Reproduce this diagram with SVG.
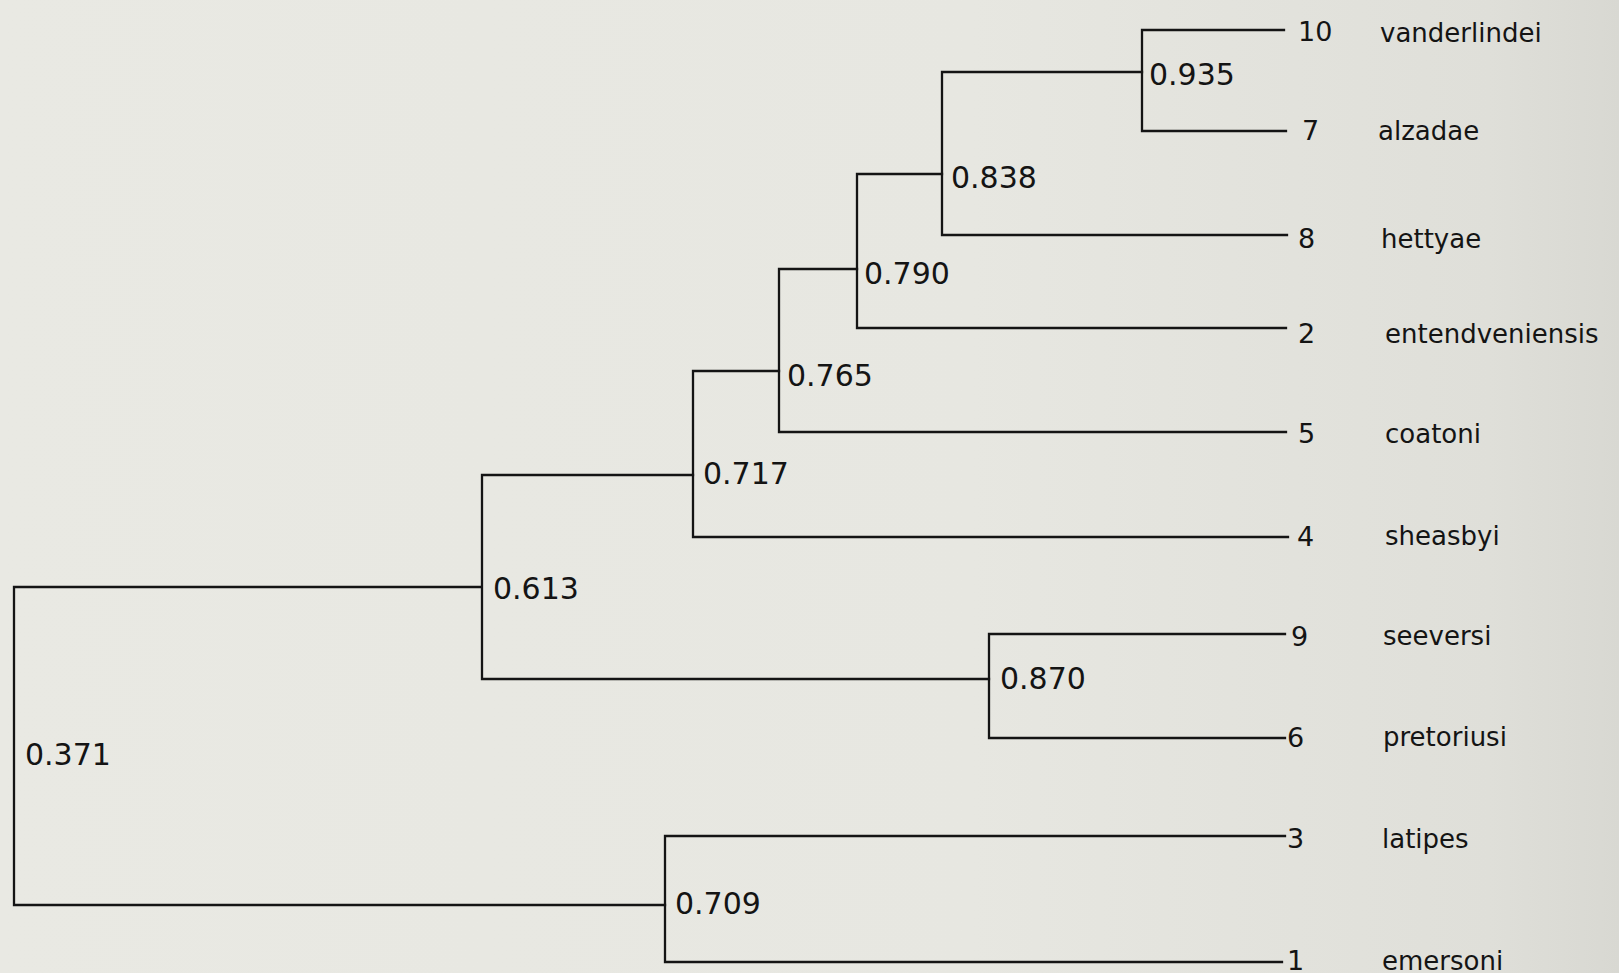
<svg xmlns="http://www.w3.org/2000/svg" width="1619" height="973" viewBox="0 0 1619 973">
<defs>
<linearGradient id="bg" x1="0" y1="0" x2="1" y2="0">
<stop offset="0" stop-color="#e9e9e3"/>
<stop offset="0.6" stop-color="#e7e7e1"/>
<stop offset="0.92" stop-color="#dfdfd9"/>
<stop offset="1" stop-color="#d8d8d2"/>
</linearGradient>
<style>
.ln{fill:none;stroke:#141414;stroke-width:2.3;stroke-linecap:square;stroke-linejoin:miter}
.nv{font-family:"DejaVu Sans","Liberation Sans",sans-serif;font-size:30px;fill:#141414}
.tn{font-family:"DejaVu Sans","Liberation Sans",sans-serif;font-size:27px;fill:#141414}
.sp{font-family:"DejaVu Sans","Liberation Sans",sans-serif;font-size:26px;fill:#141414}
</style>
</defs>
<rect x="0" y="0" width="1619" height="973" fill="url(#bg)"/>
<g id="connectors">
<path class="ln" d="M481,587 H14 V905 H665"/>
<path class="ln" d="M693,475 H482 V679 H989"/>
<path class="ln" d="M779,371 H693 V537 H1288"/>
<path class="ln" d="M857,269 H779 V432 H1286"/>
<path class="ln" d="M942,174 H857 V328 H1286"/>
<path class="ln" d="M1142,72 H942 V235 H1287"/>
<path class="ln" d="M1284,30 H1142 V131 H1286"/>
<path class="ln" d="M1285,634 H989 V738 H1285"/>
<path class="ln" d="M1285,836 H665 V962 H1282"/>
</g>
<g id="node-0371"><text class="nv" x="25" y="765">0.371</text></g>
<g id="node-0613"><text class="nv" x="493" y="599">0.613</text></g>
<g id="node-0717"><text class="nv" x="703" y="484">0.717</text></g>
<g id="node-0765"><text class="nv" x="787" y="386">0.765</text></g>
<g id="node-0790"><text class="nv" x="864" y="284">0.790</text></g>
<g id="node-0838"><text class="nv" x="951" y="188">0.838</text></g>
<g id="node-0935"><text class="nv" x="1149" y="85">0.935</text></g>
<g id="node-0870"><text class="nv" x="1000" y="689">0.870</text></g>
<g id="node-0709"><text class="nv" x="675" y="914">0.709</text></g>
<g id="tip-10"><text class="tn" x="1298" y="41">10</text><text class="sp" x="1380" y="42">vanderlindei</text></g>
<g id="tip-7"><text class="tn" x="1302" y="140">7</text><text class="sp" x="1378" y="140">alzadae</text></g>
<g id="tip-8"><text class="tn" x="1298" y="248">8</text><text class="sp" x="1381" y="248">hettyae</text></g>
<g id="tip-2"><text class="tn" x="1298" y="343">2</text><text class="sp" x="1385" y="343">entendveniensis</text></g>
<g id="tip-5"><text class="tn" x="1298" y="443">5</text><text class="sp" x="1385" y="443">coatoni</text></g>
<g id="tip-4"><text class="tn" x="1297" y="546">4</text><text class="sp" x="1385" y="545">sheasbyi</text></g>
<g id="tip-9"><text class="tn" x="1291" y="646">9</text><text class="sp" x="1383" y="645">seeversi</text></g>
<g id="tip-6"><text class="tn" x="1287" y="747">6</text><text class="sp" x="1383" y="746">pretoriusi</text></g>
<g id="tip-3"><text class="tn" x="1287" y="848">3</text><text class="sp" x="1382" y="848">latipes</text></g>
<g id="tip-1"><text class="tn" x="1287" y="970">1</text><text class="sp" x="1382" y="970">emersoni</text></g>
</svg>
